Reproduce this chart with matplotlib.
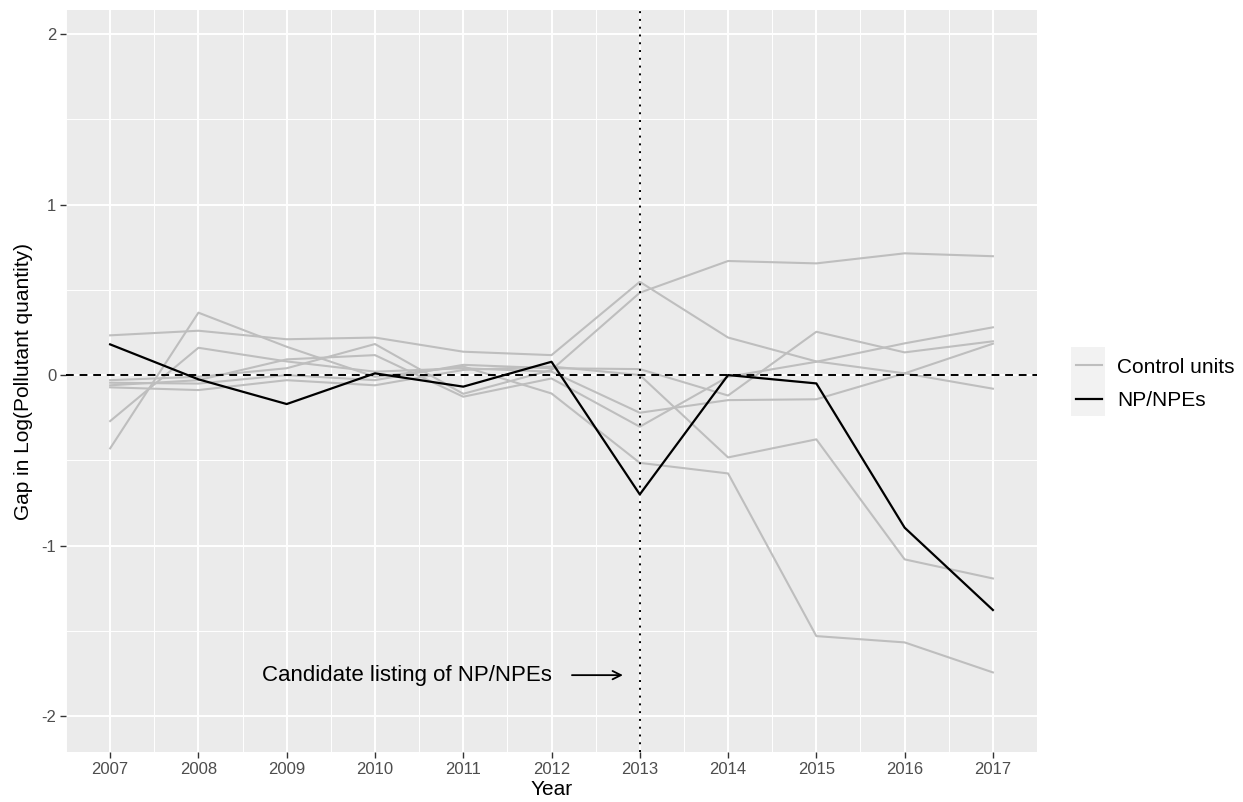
import matplotlib
matplotlib.use("Agg")
import matplotlib.pyplot as plt
from matplotlib.lines import Line2D
from matplotlib.patches import Rectangle
from matplotlib.ticker import MultipleLocator

plt.rcParams['font.family'] = ['Liberation Sans', 'DejaVu Sans']
plt.rcParams['axes.unicode_minus'] = False

years = [2007, 2008, 2009, 2010, 2011, 2012, 2013, 2014, 2015, 2016, 2017]

# Gap series for each control unit
control_units = [
    [0.233, 0.26, 0.21, 0.22, 0.137, 0.117, 0.547, 0.22, 0.08, 0.01, -0.08],
    [-0.03, -0.01, 0.04, 0.182, -0.11, 0.03, 0.483, 0.669, 0.655, 0.714, 0.697],
    [-0.045, -0.05, 0.0, -0.03, 0.06, 0.04, 0.035, -0.12, 0.254, 0.133, 0.198],
    [-0.27, 0.16, 0.08, 0.02, 0.04, 0.02, -0.221, -0.147, -0.142, 0.01, 0.184],
    [-0.06, -0.03, 0.092, 0.117, -0.127, -0.02, -0.303, -0.01, 0.078, 0.186, 0.28],
    [-0.072, -0.088, -0.03, -0.06, 0.03, 0.05, 0.0, -0.483, -0.377, -1.081, -1.193],
    [-0.43, 0.366, 0.166, -0.01, 0.05, -0.108, -0.515, -0.577, -1.531, -1.568, -1.744],
]

# Gap series for the treated NP/NPEs
treated = [0.18, -0.025, -0.17, 0.01, -0.068, 0.078, -0.70, 0.0, -0.049, -0.895, -1.378]

treatment_year = 2013
y_ticks = [-2, -1, 0, 1, 2]
annotation_text = "Candidate listing of NP/NPEs"
legend_labels = ['Control units', 'NP/NPEs']

fig = plt.figure(figsize=(12.43, 8.02), dpi=100)
ax = fig.add_axes([0.0531, 0.0623, 0.7812, 0.9252])
ax.set_facecolor('#EBEBEB')

ax.set_xlim(2006.5, 2017.5)
ax.set_ylim(-2.211, 2.141)

ax.xaxis.set_major_locator(MultipleLocator(1))
ax.xaxis.set_minor_locator(MultipleLocator(0.5))
ax.set_yticks(y_ticks)
ax.yaxis.set_minor_locator(MultipleLocator(0.5))
ax.grid(which='major', color='white', linewidth=1.4)
ax.grid(which='minor', color='white', linewidth=0.7)
ax.set_axisbelow(True)
for s in ax.spines.values():
    s.set_visible(False)

ax.tick_params(which='major', length=4, width=1, color='#333333',
               labelsize=12, labelcolor='#4D4D4D', pad=3)
ax.tick_params(which='minor', length=0)

for series in control_units:
    ax.plot(years, series, color='#BEBEBE', linewidth=1.5, zorder=2)
ax.plot(years, treated, color='black', linewidth=1.6, zorder=3)

ax.axhline(0, color='black', linestyle=(0, (4, 3)), linewidth=1.4, zorder=4)
ax.axvline(treatment_year, color='black', linestyle=(0, (1, 3)), linewidth=1.4, zorder=4)

ax.text(2010.36, -1.76, annotation_text, fontsize=16, ha='center', va='center')
ax.annotate('', xy=(2012.84, -1.76), xytext=(2012.2, -1.76),
            arrowprops=dict(arrowstyle='->', color='black', lw=1.3,
                            mutation_scale=15))

ax.set_xlabel('Year', fontsize=15, labelpad=2)
ax.set_ylabel('Gap in Log(Pollutant quantity)', fontsize=15, labelpad=6)

# legend key background
fig.patches.append(Rectangle((1071 / 1243, 1 - 416 / 802), 34 / 1243, 69 / 802,
                             transform=fig.transFigure, facecolor='#F2F2F2',
                             edgecolor='none', zorder=0))

handles = [Line2D([], [], color='#BEBEBE', linewidth=1.5),
           Line2D([], [], color='black', linewidth=1.6)]
leg = fig.legend(handles, legend_labels, loc='center left',
                 bbox_to_anchor=(0.8505, 0.5213), frameon=False, fontsize=15,
                 handlelength=1.25, handletextpad=0.72, labelspacing=0.7)

fig.savefig('out.png', dpi=100)
